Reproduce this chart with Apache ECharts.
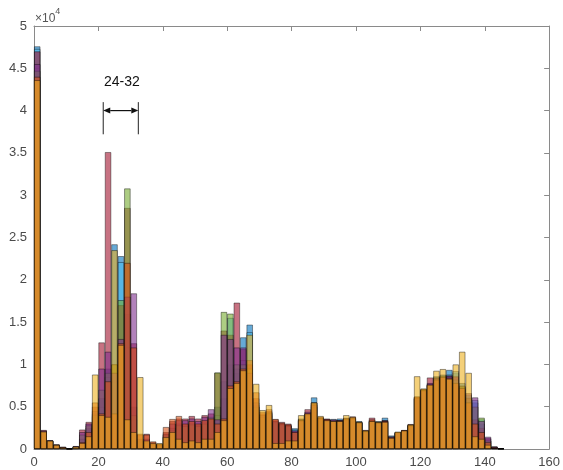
<!DOCTYPE html>
<html>
<head>
<meta charset="utf-8">
<script src="https://cdn.jsdelivr.net/npm/echarts@6/dist/echarts.min.js"></script>
<style>
html,body{margin:0;padding:0;background:#fff;}
#c{width:563px;height:470px;}
</style>
</head>
<body>
<div id="c"></div>
<script>
// bin start values (bin width 2)
var binStarts = [0,2,4,6,8,10,12,14,16,18,20,22,24,26,28,30,32,34,36,38,40,42,44,46,48,50,52,54,56,58,60,62,64,66,68,70,72,74,76,78,80,82,84,86,88,90,92,94,96,98,100,102,104,106,108,110,112,114,116,118,120,122,124,126,128,130,132,134,136,138,140,142,144];
var binWidth = 2;

// counts in units of 1e4
var blueVals = [4.76,.21,.1,.05,.02,.005,.03,.12,.25,.42, .6,.95,2.42,2.28,1.6,.5,.1,.08,.06,.05, .15,.25,.3,.28,.3,.28,.3,.35,.5,.6, 1.0,.9,1.32,1.47,.5,.35,.4,.3,.28,.27, .245,.36,.4,.61,.35,.34,.34,.36,.34,.35, .31,.2,.32,.31,.37,.15,.19,.21,.27,.6, .68,.75,.86,.88,.935,.9,.78,.62,.55,.3, .1,.02,.005];
var cyanVals = [4.73,.21,.1,.05,.015,.006,.03,.12,.22,.38, .5,.85,.8,2.21,1.2,.35,.08,.07,.06,.05, .15,.25,.3,.29,.31,.28,.32,.36,.4,.8, 1.55,.95,1.05,1.38,.52,.4,.44,.31,.29,.28, .23,.35,.42,.55,.37,.35,.355,.34,.36,.37, .33,.22,.34,.33,.34,.16,.2,.22,.29,.6, .7,.77,.85,.87,.88,.92,.75,.64,.58,.35, .12,.03,.01];
var darkRedVals = [4.70,.225,.1,.055,.025,.008,.03,.23,.32,.5, 1.26,3.51,1.0,1.7,2.85,1.25,.17,.18,.08,.06, .2,.33,.36,.36,.39,.36,.40,.42,.9,1.4, 1.35,1.73,1.18,1.0,.6,.42,.45,.35,.32,.3, .21,.35,.47,.53,.38,.36,.34,.34,.37,.385, .32,.225,.37,.32,.34,.13,.19,.225,.295,.62, .71,.845,.84,.86,.87,.85,.74,.6,.35,.25, .13,.03,.01];
var greenVals = [4.47,.2,.09,.04,.02,.005,.025,.17,.28,.4, .7,.9,1.0,1.76,3.08,.4,.1,.08,.05,.04, .17,.22,.28,.27,.29,.27,.3,.38,.905,1.62, 1.6,1.0,1.0,.95,.5,.38,.43,.32,.29,.27, .2,.33,.4,.5,.36,.34,.34,.33,.36,.36, .32,.21,.33,.32,.32,.14,.19,.21,.28,.61, .7,.76,.83,.86,.85,.82,.74,.6,.5,.37, .1,.02,.005];
var purpleVals = [4.55,.22,.105,.05,.027,.008,.035,.2,.3,.45, .95,1.15,.9,1.3,1.8,1.84,.12,.12,.06,.05, .18,.3,.34,.34,.36,.33,.38,.47,.35,1.35, 1.3,1.2,1.2,.9,.55,.4,.42,.33,.3,.28, .22,.34,.44,.52,.36,.35,.35,.34,.35,.36, .32,.21,.33,.32,.33,.15,.2,.22,.28,.6, .69,.78,.84,.85,.86,.86,.72,.66,.61,.33, .145,.025,.008];
var orangeVals = [4.40,.2,.095,.045,.02,.005,.02,.08,.2,.55, .42,.8,.42,1.25,2.2,1.2,.18,.17,.09,.06, .26,.355,.39,.3,.33,.3,.34,.36,.3,.36, .75,.8,.95,1.05,.67,.44,.47,.355,.31,.29, .2,.34,.42,.55,.37,.35,.33,.33,.36,.37, .31,.21,.35,.31,.33,.14,.2,.22,.28,.62, .7,.76,.82,.85,.84,.78,.72,.55,.3,.2, .08,.02,.005];
var yellowVals = [4.36,.21,.1,.05,.02,.007,.03,.07,.15,.88, .4,.38,2.35,1.23,.35,.2,.85,.1,.07,.07, .14,.2,.12,.08,.1,.08,.12,.12,.2,.34, .72,.78,.93,1.35,.77,.46,.52,.07,.07,.1, .1,.40,.42,.55,.39,.34,.33,.33,.40,.38, .32,.22,.33,.32,.32,.13,.205,.22,.29,.86, .715,.76,.925,.945,.83,1.0,1.15,.9,.15,.12, .05,.01,.003];

var xTicks = [0,20,40,60,80,100,120,140,160];
var yTicks = [0,0.5,1,1.5,2,2.5,3,3.5,4,4.5,5];
var annotationText = '24-32';

// drawing order (later drawn on top)
var seriesDefs = [
  {name:'s1', vals: blueVals,    color:'rgba(0,114,189,0.6)'},
  {name:'s6', vals: cyanVals,    color:'rgba(77,190,238,0.6)'},
  {name:'s7', vals: darkRedVals, color:'rgba(162,20,47,0.6)'},
  {name:'s5', vals: greenVals,   color:'rgba(119,172,48,0.6)'},
  {name:'s4', vals: purpleVals,  color:'rgba(126,47,142,0.6)'},
  {name:'s2', vals: orangeVals,  color:'rgba(217,83,25,0.6)'},
  {name:'s3', vals: yellowVals,  color:'rgba(237,177,32,0.6)'}
];

var chart = echarts.init(document.getElementById('c'), null, {renderer:'canvas'});
var axisCol = '#8a8a8a';
var labelCol = '#4a4a4a';

var series = seriesDefs.map(function(d){
  return {
    type:'bar',
    name:d.name,
    data: binStarts.map(function(b,i){ return [b + binWidth/2, d.vals[i]]; }),
    barWidth:'100%',
    barGap:'-100%',
    itemStyle:{color:d.color, borderColor:'rgba(0,0,0,0.5)', borderWidth:0.8},
    emphasis:{disabled:true},
    silent:true
  };
});

chart.setOption({
  animation:false,
  grid:{left:34, right:10, top:26, bottom:21, containLabel:false},
  xAxis:[{
    type:'value', min:0, max:160, interval:20, position:'bottom',
    axisLine:{show:true, onZero:false, lineStyle:{color:axisCol, width:1}},
    axisTick:{show:true, inside:true, length:5, lineStyle:{color:axisCol}},
    axisLabel:{color:labelCol, fontSize:13, margin:7, fontFamily:'Liberation Sans, Arial, sans-serif',
      formatter:function(v){ return xTicks.indexOf(v) >= 0 ? String(v) : ''; }},
    splitLine:{show:false}
  },{
    type:'value', min:0, max:160, interval:20, position:'top',
    axisLine:{show:true, onZero:false, lineStyle:{color:axisCol, width:1}},
    axisTick:{show:true, inside:true, length:5, lineStyle:{color:axisCol}},
    axisLabel:{show:false}, splitLine:{show:false}
  }],
  yAxis:[{
    type:'value', min:0, max:5, interval:0.5, position:'left',
    axisLine:{show:true, onZero:false, lineStyle:{color:axisCol, width:1}},
    axisTick:{show:true, inside:true, length:5, lineStyle:{color:axisCol}},
    axisLabel:{color:labelCol, fontSize:13, margin:7, fontFamily:'Liberation Sans, Arial, sans-serif',
      formatter:function(v){ return yTicks.indexOf(v) >= 0 ? String(v) : ''; }},
    splitLine:{show:false}
  },{
    type:'value', min:0, max:5, interval:0.5, position:'right',
    axisLine:{show:true, onZero:false, lineStyle:{color:axisCol, width:1}},
    axisTick:{show:true, inside:true, length:5, lineStyle:{color:axisCol}},
    axisLabel:{show:false}, splitLine:{show:false}
  }],
  series: series
});

// annotation: dimension arrow in data coordinates
var annX1 = 21.5, annX2 = 32.4, annYTop = 4.1, annYBot = 3.72, annYArrow = 4.0, annTextX = 27.3, annTextY = 4.34;
function P(x,y){ return chart.convertToPixel({gridIndex:0}, [x,y]); }
var a1 = P(annX1, annYTop), a1b = P(annX1, annYBot);
var a2 = P(annX2, annYTop), a2b = P(annX2, annYBot);
var m1 = P(annX1, annYArrow), m2 = P(annX2, annYArrow);
var tp = P(annTextX, annTextY);
var ah = 7, aw = 3;
var graphics = [
  {type:'line', shape:{x1:a1[0], y1:a1[1], x2:a1b[0], y2:a1b[1]}, style:{stroke:'#222', lineWidth:1}},
  {type:'line', shape:{x1:a2[0], y1:a2[1], x2:a2b[0], y2:a2b[1]}, style:{stroke:'#222', lineWidth:1}},
  {type:'line', shape:{x1:m1[0]+ah, y1:m1[1], x2:m2[0]-ah, y2:m2[1]}, style:{stroke:'#111', lineWidth:1.2}},
  {type:'polygon', shape:{points:[[m1[0],m1[1]],[m1[0]+ah,m1[1]-aw],[m1[0]+ah,m1[1]+aw]]}, style:{fill:'#111'}},
  {type:'polygon', shape:{points:[[m2[0],m2[1]],[m2[0]-ah,m2[1]-aw],[m2[0]-ah,m2[1]+aw]]}, style:{fill:'#111'}},
  {type:'text', x:tp[0], y:tp[1], style:{text:annotationText, fill:'#111', font:'14px "Liberation Sans", Arial, sans-serif', align:'center', verticalAlign:'middle'}},
  {type:'text', left:35, top:7, style:{
    text:'{a|×10}{b|4}',
    rich:{
      a:{fontSize:12, fill:'#555', fontFamily:'Liberation Sans, Arial, sans-serif', padding:[6,0,0,0]},
      b:{fontSize:9, fill:'#555', fontFamily:'Liberation Sans, Arial, sans-serif', verticalAlign:'top'}
    }
  }}
];
chart.setOption({graphic:graphics});
</script>
</body>
</html>
